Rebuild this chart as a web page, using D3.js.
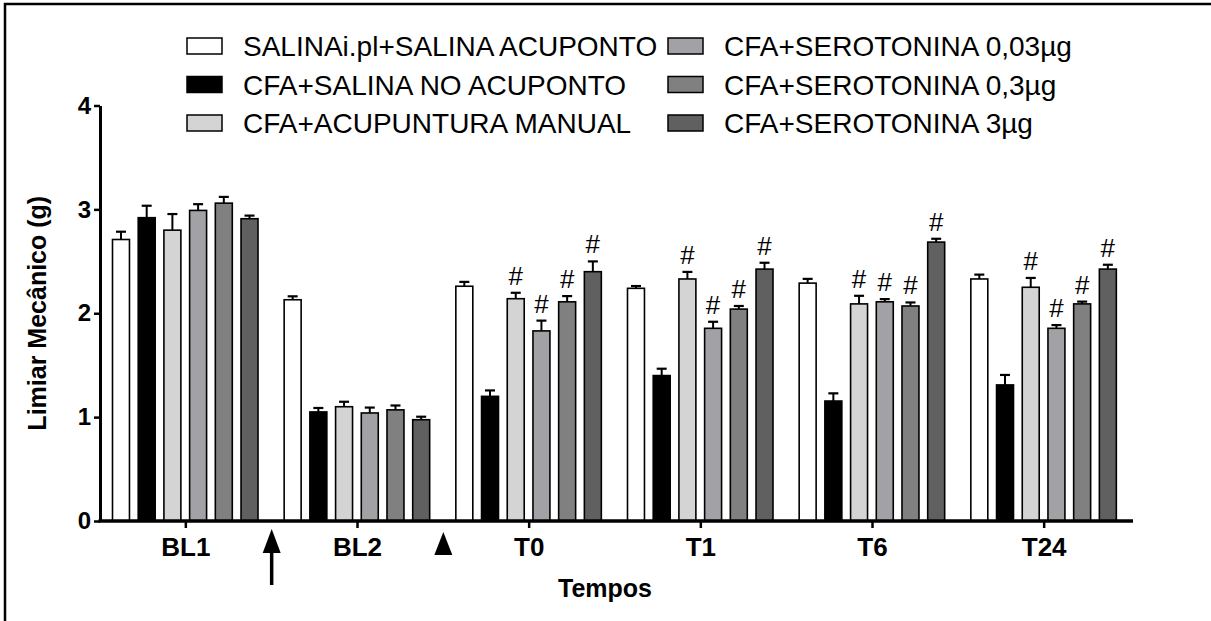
<!DOCTYPE html>
<html>
<head>
<meta charset="utf-8">
<script src="https://cdn.jsdelivr.net/npm/d3@7"></script>
<style>
  html, body { margin: 0; padding: 0; background: #fff; }
  svg { display: block; }
  text { font-family: "Liberation Sans", Arial, sans-serif; }
</style>
</head>
<body>
<svg id="chart" width="1211" height="621"></svg>
<script>
// ---- data ----
const categories = ["BL1", "BL2", "T0", "T1", "T6", "T24"];
const seriesNames = [
  "SALINAi.pl+SALINA ACUPONTO",
  "CFA+SALINA NO ACUPONTO",
  "CFA+ACUPUNTURA MANUAL",
  "CFA+SEROTONINA 0,03µg",
  "CFA+SEROTONINA 0,3µg",
  "CFA+SEROTONINA 3µg"
];
const seriesColors = ["#ffffff", "#000000", "#d4d4d4", "#a2a2a6", "#808080", "#606060"];

const salinaMean  = [2.71, 2.13, 2.26, 2.24, 2.29, 2.33];
const salinaErr   = [0.075, 0.033, 0.042, 0.022, 0.041, 0.042];
const cfaSalMean  = [2.92, 1.05, 1.20, 1.40, 1.155, 1.31];
const cfaSalErr   = [0.115, 0.038, 0.057, 0.066, 0.074, 0.096];
const acupMean    = [2.80, 1.10, 2.14, 2.33, 2.09, 2.25];
const acupErr     = [0.155, 0.048, 0.057, 0.068, 0.078, 0.09];
const sero003Mean = [2.99, 1.04, 1.83, 1.855, 2.11, 1.855];
const sero003Err  = [0.06, 0.052, 0.099, 0.063, 0.026, 0.031];
const sero03Mean  = [3.06, 1.07, 2.11, 2.04, 2.07, 2.09];
const sero03Err   = [0.06, 0.042, 0.055, 0.03, 0.034, 0.022];
const sero3Mean   = [2.91, 0.975, 2.40, 2.425, 2.685, 2.425];
const sero3Err    = [0.03, 0.029, 0.099, 0.061, 0.032, 0.042];
// significance marks (#) per series, per category
const salinaSig   = [0, 0, 0, 0, 0, 0];
const cfaSalSig   = [0, 0, 0, 0, 0, 0];
const acupSig     = [0, 0, 1, 1, 1, 1];
const sero003Sig  = [0, 0, 1, 1, 1, 1];
const sero03Sig   = [0, 0, 1, 1, 1, 1];
const sero3Sig    = [0, 0, 1, 1, 1, 1];
const yTicks = [0, 1, 2, 3, 4];

const allMeans = [salinaMean, cfaSalMean, acupMean, sero003Mean, sero03Mean, sero3Mean];
const allErrs  = [salinaErr, cfaSalErr, acupErr, sero003Err, sero03Err, sero3Err];
const allSig   = [salinaSig, cfaSalSig, acupSig, sero003Sig, sero03Sig, sero3Sig];

const rows = [];
categories.forEach((c, ci) => {
  seriesNames.forEach((s, si) => {
    rows.push({cat: c, series: si, mean: allMeans[si][ci], err: allErrs[si][ci], sig: allSig[si][ci]});
  });
});

// ---- layout ----
const svg = d3.select("#chart");
const x0 = d3.scaleBand().domain(categories).range([100, 1130]).paddingInner(0).paddingOuter(0);
const x1 = d3.scaleBand().domain(d3.range(seriesNames.length)).range([12.5, 158]).paddingInner(0.34).paddingOuter(0);
const y = d3.scaleLinear().domain([0, 4]).range([521, 105.5]);

// frame
svg.append("path").attr("d", "M5,1000 L5,4 L1300,4")
  .attr("fill", "none").attr("stroke", "#000").attr("stroke-width", 2.5);

// bars
const g = svg.append("g");
g.selectAll("rect.bar").data(rows).join("rect")
  .attr("class", "bar")
  .attr("x", d => x0(d.cat) + x1(d.series))
  .attr("width", x1.bandwidth())
  .attr("y", d => y(d.mean))
  .attr("height", d => y(0) - y(d.mean))
  .attr("fill", d => seriesColors[d.series])
  .attr("stroke", "#000").attr("stroke-width", 1.6);

// error bars (upper only)
const eb = g.selectAll("g.err").data(rows).join("g").attr("class", "err");
eb.append("line")
  .attr("x1", d => x0(d.cat) + x1(d.series) + x1.bandwidth() / 2)
  .attr("x2", d => x0(d.cat) + x1(d.series) + x1.bandwidth() / 2)
  .attr("y1", d => y(d.mean))
  .attr("y2", d => y(d.mean + d.err))
  .attr("stroke", "#000").attr("stroke-width", 2);
eb.append("line")
  .attr("x1", d => x0(d.cat) + x1(d.series) + x1.bandwidth() / 2 - 5)
  .attr("x2", d => x0(d.cat) + x1(d.series) + x1.bandwidth() / 2 + 5)
  .attr("y1", d => y(d.mean + d.err))
  .attr("y2", d => y(d.mean + d.err))
  .attr("stroke", "#000").attr("stroke-width", 2.2);

// significance marks
g.selectAll("text.sig").data(rows.filter(d => d.sig)).join("text")
  .attr("class", "sig")
  .attr("x", d => x0(d.cat) + x1(d.series) + x1.bandwidth() / 2)
  .attr("y", d => y(d.mean + d.err) - 8)
  .attr("text-anchor", "middle")
  .attr("font-size", 26)
  .text("#");

// y axis
const yAxis = svg.append("g").attr("transform", "translate(100,0)")
  .call(d3.axisLeft(y).tickValues(yTicks).tickFormat(d3.format("d")).tickSize(6).tickSizeOuter(0));
yAxis.select(".domain").attr("stroke-width", 3);
yAxis.selectAll(".tick line").attr("stroke-width", 2.5);
yAxis.selectAll(".tick text").attr("font-size", 24).attr("font-weight", "bold")
  .attr("font-family", "'Liberation Sans', Arial, sans-serif").attr("x", -9);

// x axis
const xAxis = svg.append("g").attr("transform", "translate(0,521)")
  .call(d3.axisBottom(x0).tickSize(7).tickSizeOuter(0));
xAxis.select(".domain").attr("d", "M98.5,0H1133").attr("stroke-width", 3.5);
xAxis.selectAll(".tick line").attr("stroke-width", 2.5);
xAxis.selectAll(".tick text").attr("font-size", 26).attr("font-weight", "bold")
  .attr("font-family", "'Liberation Sans', Arial, sans-serif").attr("dy", "0.95em");

// axis titles
svg.append("text")
  .attr("transform", `translate(46,${(y(0) + y(4)) / 2}) rotate(-90)`)
  .attr("text-anchor", "middle")
  .attr("font-size", 25).attr("font-weight", "bold")
  .text("Limiar Mecânico (g)");
svg.append("text")
  .attr("x", (x0.range()[0] + x0.range()[1]) / 2 - 10)
  .attr("y", 597)
  .attr("text-anchor", "middle")
  .attr("font-size", 25).attr("font-weight", "bold")
  .text("Tempos");

// markers between groups: arrow (BL1|BL2) and triangle (BL2|T0)
const b1 = x0("BL2");
svg.append("line").attr("x1", b1).attr("x2", b1).attr("y1", 550).attr("y2", 585)
  .attr("stroke", "#000").attr("stroke-width", 3.5);
svg.append("path").attr("d", `M${b1},529 L${b1 + 9},553 L${b1 - 9},553 Z`).attr("fill", "#000");
const b2 = x0("T0");
svg.append("path").attr("d", `M${b2},532 L${b2 + 9},555 L${b2 - 9},555 Z`).attr("fill", "#000");

// legend
const legX = [187, 668];
const legY = [46, 84.5, 123];
const leg = svg.append("g").selectAll("g").data(seriesNames).join("g")
  .attr("transform", (d, i) => `translate(${legX[Math.floor(i / 3)]},${legY[i % 3]})`);
leg.append("rect").attr("x", 0).attr("y", -8).attr("width", 35).attr("height", 16)
  .attr("fill", (d, i) => seriesColors[i]).attr("stroke", "#000").attr("stroke-width", 1.5);
leg.append("text").attr("x", 56).attr("y", 0).attr("dy", "0.36em")
  .attr("font-size", 28).text(d => d);
</script>
</body>
</html>
